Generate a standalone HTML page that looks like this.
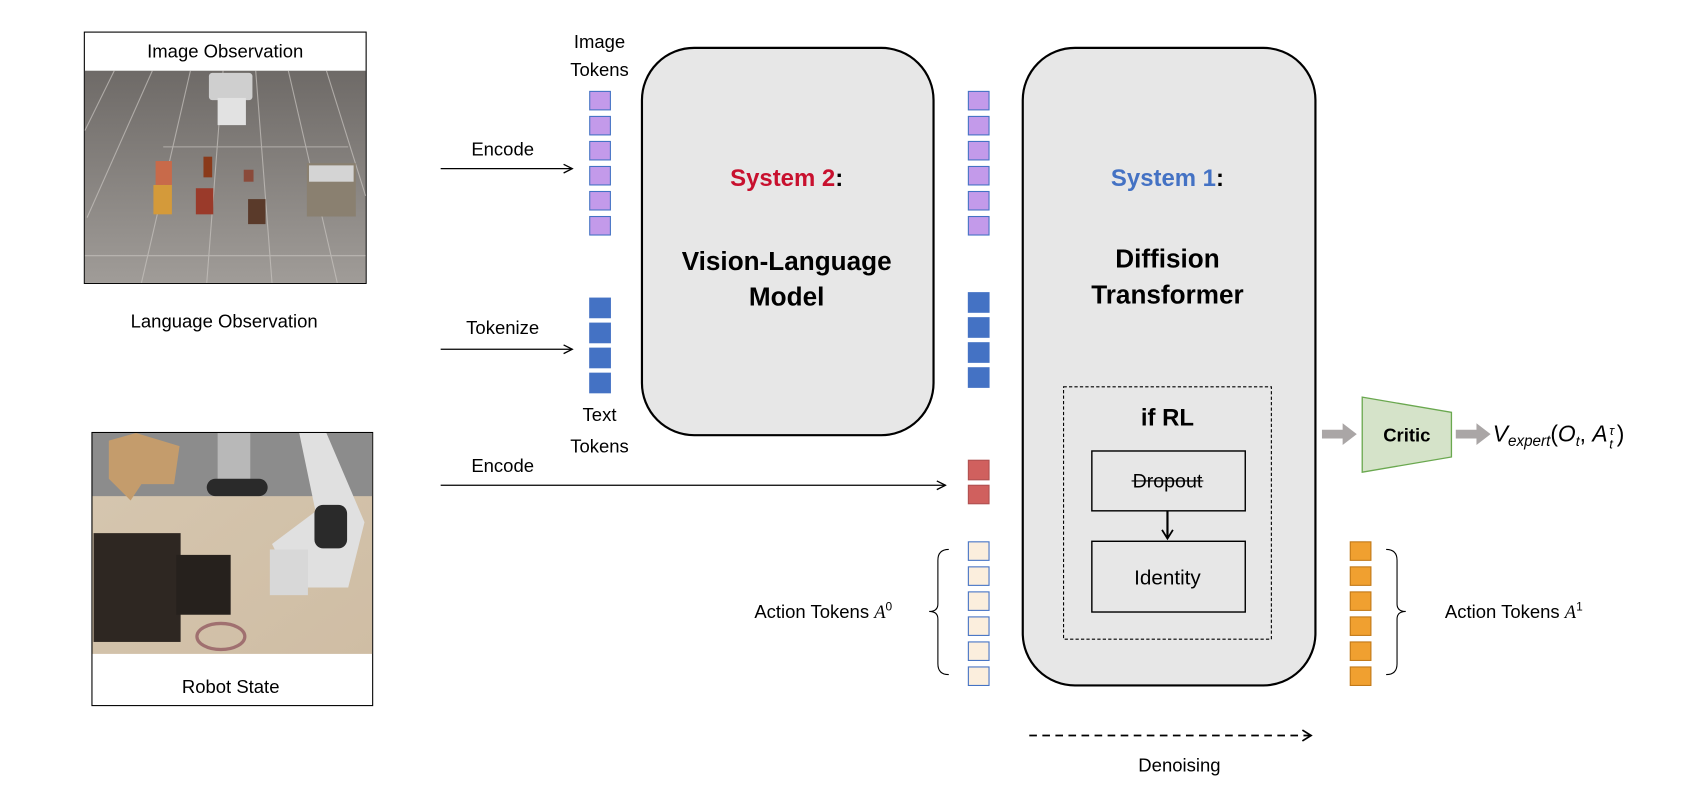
<!DOCTYPE html>
<html><head><meta charset="utf-8"><style>
html,body{margin:0;padding:0;background:#fff;}
svg{display:block;}
text{font-family:"Liberation Sans",Arial,sans-serif;}
</style></head><body>
<svg width="1698" height="796" viewBox="0 0 1560.6 731.6" xmlns="http://www.w3.org/2000/svg">
<defs>
<marker id="ah" markerWidth="10" markerHeight="10" refX="9" refY="5" orient="auto" markerUnits="userSpaceOnUse"><path d="M1,1 L9,5 L1,9" fill="none" stroke="#000" stroke-width="1.2"/></marker>
<marker id="ah2" markerWidth="12" markerHeight="12" refX="10" refY="6" orient="auto" markerUnits="userSpaceOnUse"><path d="M2,1 L10,6 L2,11" fill="none" stroke="#000" stroke-width="1.6"/></marker>
<linearGradient id="floor" x1="0" y1="0" x2="0" y2="1"><stop offset="0" stop-color="#6e6a67"/><stop offset="1" stop-color="#a09c98"/></linearGradient>
<linearGradient id="wood" x1="0" y1="0" x2="1" y2="1"><stop offset="0" stop-color="#d6c7b0"/><stop offset="1" stop-color="#cfbda4"/></linearGradient>
</defs>

<rect x="77.5" y="29.5" width="259" height="231" fill="#fff" stroke="#000" stroke-width="1"/>
<text x="207" y="53" font-size="17" text-anchor="middle">Image Observation</text>
<rect x="78" y="65" width="258" height="195" fill="url(#floor)"/>
<g stroke="#c8c4c0" stroke-width="1" opacity="0.7">
<line x1="140" y1="65" x2="80" y2="200"/><line x1="175" y1="65" x2="130" y2="260"/><line x1="205" y1="65" x2="190" y2="260"/>
<line x1="235" y1="65" x2="250" y2="260"/><line x1="265" y1="65" x2="310" y2="260"/><line x1="300" y1="65" x2="336" y2="180"/>
<line x1="105" y1="65" x2="78" y2="120"/><line x1="78" y1="235" x2="336" y2="235"/><line x1="150" y1="135" x2="320" y2="135"/>
</g>
<rect x="192" y="67" width="40" height="25" fill="#cfcfcf" rx="3"/>
<rect x="200" y="90" width="26" height="25" fill="#e2e2e2"/>
<rect x="143" y="148" width="15" height="22" fill="#c86a4a"/>
<rect x="141" y="170" width="17" height="27" fill="#d49a3a"/>
<rect x="187" y="144" width="8" height="19" fill="#8a3a1a"/>
<rect x="180" y="173" width="16" height="24" fill="#9a3a2a"/>
<rect x="224" y="156" width="9" height="11" fill="#8a4a3a"/>
<rect x="228" y="183" width="16" height="23" fill="#5a3a2a"/>
<rect x="282" y="150" width="45" height="49" fill="#8a8070"/>
<rect x="284" y="152" width="41" height="15" fill="#d4d4d4"/>

<text x="206" y="301" font-size="17" text-anchor="middle">Language Observation</text>

<rect x="84.5" y="397.5" width="258" height="251" fill="#fff" stroke="#000" stroke-width="1"/>
<rect x="85" y="398" width="257" height="203" fill="url(#wood)"/>
<rect x="85" y="398" width="257" height="58" fill="#8c8c8c"/>
<polygon points="100,405 125,398 165,410 160,445 130,445 120,460 100,440" fill="#c49c6c"/>
<rect x="200" y="398" width="30" height="45" fill="#b8b8b8"/>
<rect x="190" y="440" width="56" height="16" rx="8" fill="#2a2a2a"/>
<path d="M275,398 L300,398 L335,480 L320,540 L270,540 L250,500 L290,470 Z" fill="#e0e0e0"/>
<rect x="289" y="464" width="30" height="40" rx="8" fill="#2a2a2a"/>
<rect x="248" y="505" width="35" height="42" fill="#d8d8d8"/>
<rect x="86" y="490" width="80" height="100" fill="#2e2722"/>
<rect x="162" y="510" width="50" height="55" fill="#26211d"/>
<ellipse cx="203" cy="585" rx="22" ry="12" fill="none" stroke="#a07070" stroke-width="3"/>
<text x="212" y="637" font-size="17" text-anchor="middle">Robot State</text>

<text x="462" y="143" font-size="17" text-anchor="middle">Encode</text>
<line x1="405" y1="155" x2="526" y2="155" stroke="#000" stroke-width="1.2" marker-end="url(#ah)"/>
<text x="462" y="307" font-size="17" text-anchor="middle">Tokenize</text>
<line x1="405" y1="321" x2="526" y2="321" stroke="#000" stroke-width="1.2" marker-end="url(#ah)"/>
<text x="462" y="434" font-size="17" text-anchor="middle">Encode</text>
<line x1="405" y1="446" x2="869" y2="446" stroke="#000" stroke-width="1.2" marker-end="url(#ah)"/>

<text x="551" y="44" font-size="17" text-anchor="middle">Image</text>
<text x="551" y="70" font-size="17" text-anchor="middle">Tokens</text>
<text x="551" y="387" font-size="17" text-anchor="middle">Text</text>
<text x="551" y="416" font-size="17" text-anchor="middle">Tokens</text>

<g stroke="#4472c4" stroke-width="1">
<g fill="#c39aea">
<rect x="542" y="84" width="19" height="17"/><rect x="542" y="107" width="19" height="17"/><rect x="542" y="130" width="19" height="17"/><rect x="542" y="153" width="19" height="17"/><rect x="542" y="176" width="19" height="17"/><rect x="542" y="199" width="19" height="17"/>
<rect x="890" y="84" width="19" height="17"/><rect x="890" y="107" width="19" height="17"/><rect x="890" y="130" width="19" height="17"/><rect x="890" y="153" width="19" height="17"/><rect x="890" y="176" width="19" height="17"/><rect x="890" y="199" width="19" height="17"/>
</g>
<g fill="#4472c4">
<rect x="542" y="274" width="19" height="18"/><rect x="542" y="297" width="19" height="18"/><rect x="542" y="320" width="19" height="18"/><rect x="542" y="343" width="19" height="18"/>
<rect x="890" y="269" width="19" height="18"/><rect x="890" y="292" width="19" height="18"/><rect x="890" y="315" width="19" height="18"/><rect x="890" y="338" width="19" height="18"/>
</g>
<g fill="#fbeedd">
<rect x="890" y="498" width="19" height="17"/><rect x="890" y="521" width="19" height="17"/><rect x="890" y="544" width="19" height="17"/><rect x="890" y="567" width="19" height="17"/><rect x="890" y="590" width="19" height="17"/><rect x="890" y="613" width="19" height="17"/>
</g>
</g>
<g stroke="#b05050" stroke-width="1" fill="#d0605e">
<rect x="890" y="423" width="19" height="18"/><rect x="890" y="446" width="19" height="17"/>
</g>
<g stroke="#c07818" stroke-width="1" fill="#f0a030">
<rect x="1241" y="498" width="19" height="17"/><rect x="1241" y="521" width="19" height="17"/><rect x="1241" y="544" width="19" height="17"/><rect x="1241" y="567" width="19" height="17"/><rect x="1241" y="590" width="19" height="17"/><rect x="1241" y="613" width="19" height="17"/>
</g>

<rect x="590" y="44" width="268" height="356" rx="48" fill="#e7e7e7" stroke="#000" stroke-width="2"/>
<text x="723" y="171" font-size="22" font-weight="bold" text-anchor="middle"><tspan fill="#c8102e">System 2</tspan><tspan fill="#000">:</tspan></text>
<text x="723" y="248" font-size="24" font-weight="bold" text-anchor="middle">Vision-Language</text>
<text x="723" y="281" font-size="24" font-weight="bold" text-anchor="middle">Model</text>

<rect x="940" y="44" width="269" height="586" rx="48" fill="#e7e7e7" stroke="#000" stroke-width="2"/>
<text x="1073" y="171" font-size="22" font-weight="bold" text-anchor="middle"><tspan fill="#4472c4">System 1</tspan><tspan fill="#000">:</tspan></text>
<text x="1073" y="246" font-size="24" font-weight="bold" text-anchor="middle">Diffision</text>
<text x="1073" y="279" font-size="24" font-weight="bold" text-anchor="middle">Transformer</text>
<rect x="977.5" y="355.5" width="191" height="232" fill="none" stroke="#000" stroke-width="1" stroke-dasharray="3,2"/>
<text x="1073" y="391" font-size="22" font-weight="bold" text-anchor="middle">if RL</text>
<rect x="1003.5" y="414.5" width="141" height="55" fill="#e7e7e7" stroke="#000" stroke-width="1.3"/>
<text x="1073" y="448" font-size="18" text-anchor="middle">Dropout</text>
<line x1="1040" y1="442" x2="1106" y2="442" stroke="#000" stroke-width="1"/>
<line x1="1073" y1="470" x2="1073" y2="495" stroke="#000" stroke-width="2" marker-end="url(#ah2)"/>
<rect x="1003.5" y="497.5" width="141" height="65" fill="#e7e7e7" stroke="#000" stroke-width="1.3"/>
<text x="1073" y="537" font-size="19" text-anchor="middle">Identity</text>

<line x1="946" y1="676" x2="1205" y2="676" stroke="#000" stroke-width="1.6" stroke-dasharray="7,5" marker-end="url(#ah2)"/>
<text x="1084" y="709" font-size="17" text-anchor="middle">Denoising</text>

<path d="M872,505 Q862,505 862,515 L862,555 Q862,562 854,562 Q862,562 862,569 L862,610 Q862,620 872,620" fill="none" stroke="#000" stroke-width="1"/>
<text x="820" y="568" font-size="17" text-anchor="end">Action Tokens <tspan font-family="Liberation Serif" font-style="italic">A</tspan><tspan font-size="11" dy="-7">0</tspan></text>
<path d="M1274,505 Q1284,505 1284,515 L1284,555 Q1284,562 1292,562 Q1284,562 1284,569 L1284,610 Q1284,620 1274,620" fill="none" stroke="#000" stroke-width="1"/>
<text x="1328" y="568" font-size="17">Action Tokens <tspan font-family="Liberation Serif" font-style="italic">A</tspan><tspan font-size="11" dy="-7">1</tspan></text>

<polygon points="1215,395 1234,395 1234,389 1247,399 1234,409 1234,403 1215,403" fill="#aaa6a6"/>
<polygon points="1252,365 1334,379 1334,420 1252,434" fill="#d5e3c9" stroke="#6aa84f" stroke-width="1.2"/>
<text x="1293" y="406" font-size="17" font-weight="bold" text-anchor="middle">Critic</text>
<polygon points="1338,395 1357,395 1357,389 1370,399 1357,409 1357,403 1338,403" fill="#aaa6a6"/>
<text x="1372" y="406" font-size="21" font-family="Liberation Serif" font-style="italic">V<tspan font-size="14" dy="4">expert</tspan><tspan dy="-4" font-style="normal">(</tspan>O<tspan font-size="13" dy="4">t</tspan><tspan dy="-4" font-style="normal">, </tspan>A</text>
<text x="1479" y="400" font-size="12" font-family="Liberation Serif" font-style="italic">τ</text>
<text x="1479" y="412" font-size="12" font-family="Liberation Serif" font-style="italic">t</text>
<text x="1486" y="406" font-size="21" font-family="Liberation Serif">)</text>
</svg>
</body></html>
